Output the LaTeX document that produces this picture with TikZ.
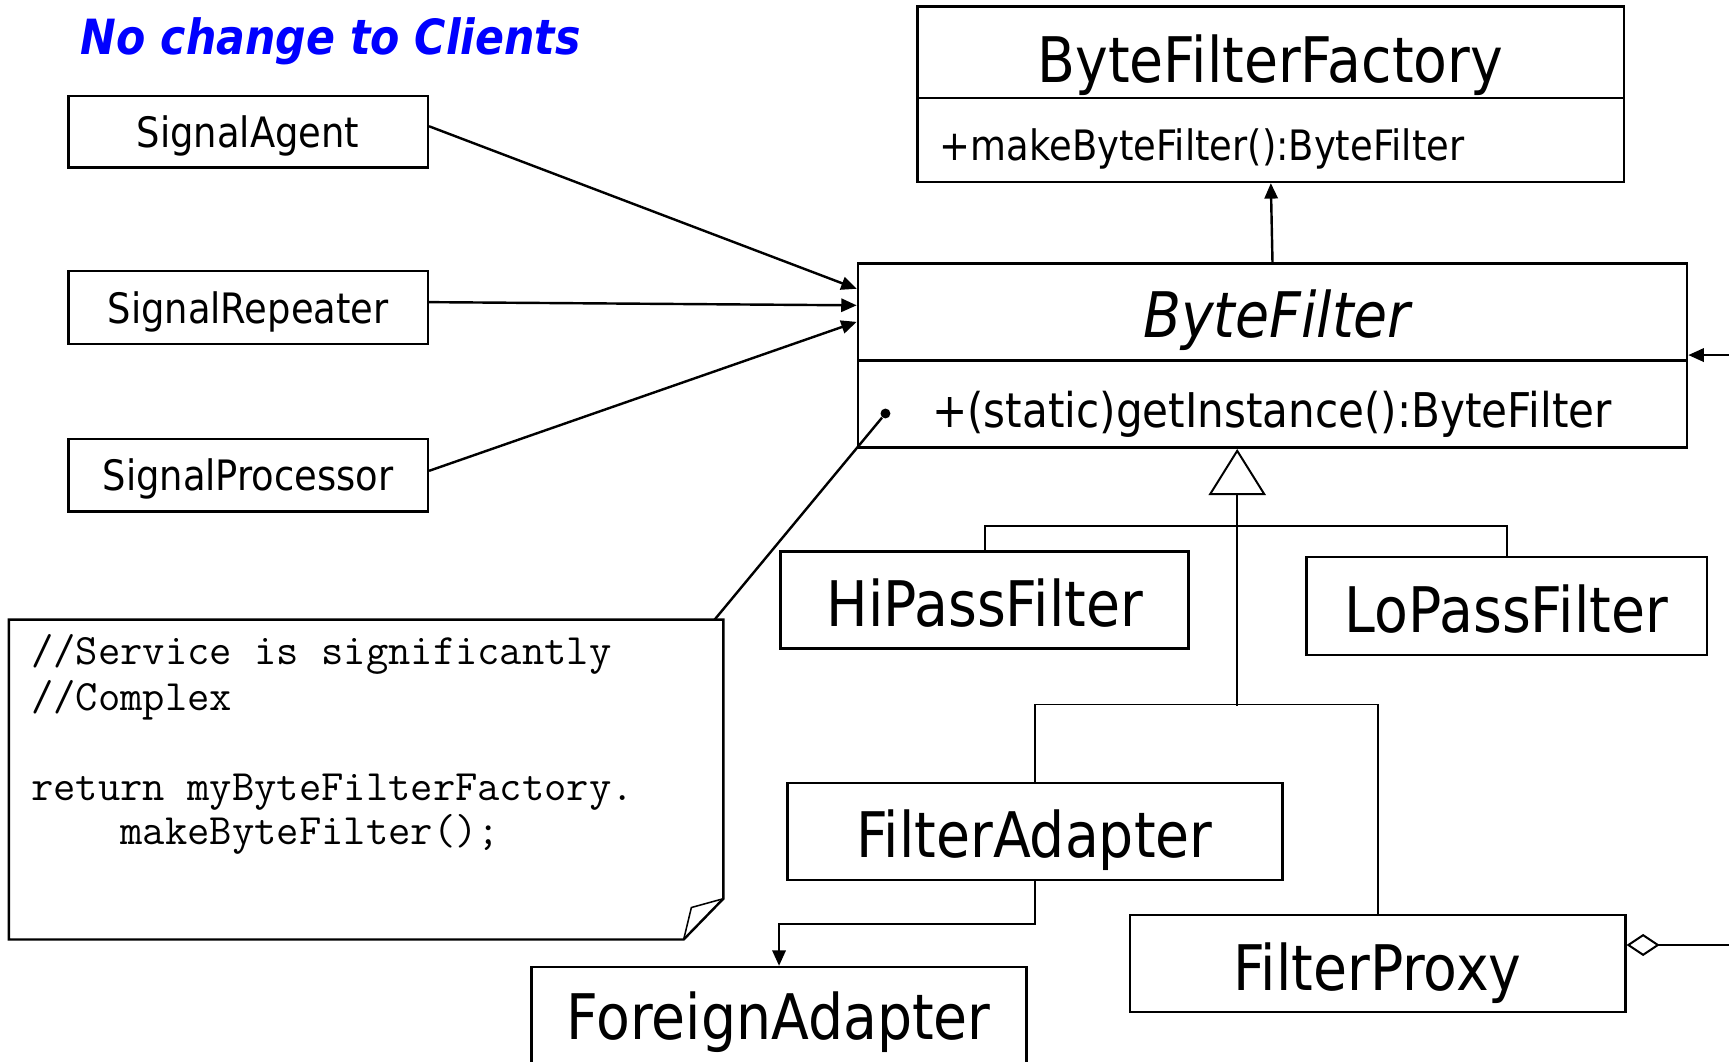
\documentclass[tikz,border=0pt]{standalone}
\usepackage{fontspec}
\setmainfont{DejaVu Sans}[FakeStretch=0.88]
\usetikzlibrary{arrows.meta,fit,calc}

\begin{document}
\begin{tikzpicture}[x=0.5pt,y=-0.5pt,
  cls/.style={draw, line width=1.1pt, inner sep=0pt},
  lbl/.style={anchor=base, inner sep=0pt},
  lblw/.style={anchor=base west, inner sep=0pt},
  small/.style={font=\fontsize{19}{23}\selectfont},
  big/.style={font=\fontsize{28.5}{34}\selectfont},
  code/.style={anchor=base west, inner sep=0pt, font=\ttfamily\fontsize{19.65}{22}\selectfont},
  conn/.style={line width=1.1pt},
  tree/.style={line width=0.85pt},
  arr/.style={-{Triangle[length=7pt,width=6pt]}},
]
\useasboundingbox (0,0) rectangle (1568,963);

% heading
\node[lblw, font=\fontsize{22}{26}\selectfont\bfseries\itshape, text=blue] (title) at (73,49) {No change to Clients};

% client classes
\node[cls, fit={(62,87) (388,152)}] (agent) {};
\node[lbl, small] (agenttxt) at (225,134) {SignalAgent};
\node[cls, fit={(62,246) (388,312)}] (rep) {};
\node[lbl, small] (reptxt) at (225,293) {SignalRepeater};
\node[cls, fit={(62,398) (388,464)}] (proc) {};
\node[lbl, small] (proctxt) at (225,445) {SignalProcessor};

% factory
\node[cls, fit={(832,6) (1473,165)}] (fac) {};
\draw[line width=1.1pt] (832,89) -- (1473,89);
\node[lbl, big] (factxt) at (1152,75) {ByteFilterFactory};
\node[lblw, small] (facop) at (852,146) {+makeByteFilter():ByteFilter};

% abstract filter
\node[cls, fit={(778,239) (1530,406)}] (bf) {};
\draw[line width=1.1pt] (778,327) -- (1530,327);
\node[lbl, font=\fontsize{28.5}{34}\selectfont\itshape] (bftxt) at (1158,306) {ByteFilter};
\node[lblw, font=\fontsize{21.7}{26}\selectfont] (bfop) at (845,388) {+(static)getInstance():ByteFilter};

% concrete filters
\node[cls, fit={(708,500) (1078,588)}] (hi) {};
\node[lbl, big] (hitxt) at (893,568) {HiPassFilter};
\node[cls, fit={(1185,505) (1548,594)}] (lo) {};
\node[lbl, big] (lotxt) at (1366,574) {LoPassFilter};
\node[cls, fit={(714,710) (1163,798)}] (fa) {};
\node[lbl, big] (fatxt) at (938,778) {FilterAdapter};
\node[cls, fit={(1025,830) (1474,918)}] (fp) {};
\node[lbl, big] (fptxt) at (1249,898) {FilterProxy};
\node[cls, fit={(482,877) (931,968)}] (fo) {};
\node[lbl, big] (fotxt) at (706,943) {ForeignAdapter};

% note
\coordinate (nNW) at (8,562);
\coordinate (nNE) at (656,562);
\coordinate (nFold) at (656,815);
\coordinate (nBot) at (620,852);
\coordinate (nSW) at (8,852);
\coordinate (nIn) at (627,823);
\coordinate (noteTop) at (648,562);
\draw[line width=1.1pt] (nNW) -- (nNE) -- (nFold) -- (nBot) -- (nSW) -- cycle;
\draw[line width=0.7pt] (nFold) -- (nIn) -- (nBot);
\node[code] (c1) at (28,603) {//Service is significantly};
\node[code] (c2) at (28,644) {//Complex};
\node[code] (c3) at (28,726) {return myByteFilterFactory.};
\node[code] (c4) at (28,766) {\phantom{xxxx}makeByteFilter();};

% note anchor
\node[circle, fill, inner sep=0pt, minimum size=4.5pt] (dot) at (803,375) {};
\draw[conn] (dot) -- (noteTop);

% client dependencies
\draw[conn, arr] ($(agent.east)+(0,-5)$) -- ($(bf.north west)+(0,24)$);
\draw[conn, arr] ($(rep.east)+(0,-5)$) -- ($(bf.north west)+(0,39)$);
\draw[conn, arr] ($(proc.east)+(0,-4)$) -- ($(bf.north west)+(0,54)$);

% creation link
\draw[conn, arr] (bf.north) -- (fac.south);

% incoming reference
\coordinate (rin) at (1580,322);
\draw[conn, arr] (rin) -- (bf.east |- rin);

% generalisation tree
\coordinate (gen) at (1122,640);
\draw[tree, -{Triangle[open, length=21pt, width=26pt, line width=0.9pt, fill=white]}] (gen) -- (gen |- bf.south);
\draw[tree] (hi.north) -- ++(0,-22) -| (lo.north);
\draw[tree] (fa.north) -- ++(0,-70) -| (fp.north);

% adapter delegation
\draw[conn, arr] (fa.south) -- ++(0,39) -| (fo.north);

% aggregation
\coordinate (aggout) at (1580,857);
\draw[conn, {Diamond[open, length=15pt, width=10pt, line width=0.9pt, fill=white]}-] (fp.east |- aggout) -- (aggout);
\end{tikzpicture}
\end{document}
